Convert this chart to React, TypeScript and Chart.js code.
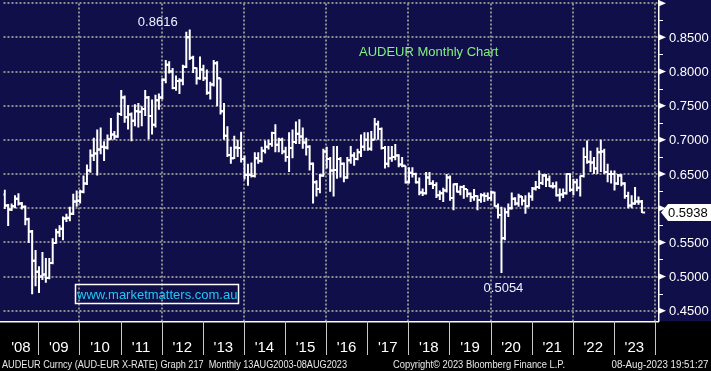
import React, { useEffect, useRef } from 'react';
import { Chart, registerables } from 'chart.js';
Chart.register(...registerables);

// ---- DATA: AUDEUR monthly OHLC, first bar = Feb 2008 (month index 1 from Jan 2008) ----
const FIRST_MONTH = 1;
const opens = [
  .620,.604,.598,.603,.614,.607,.602,.584,.566,.523,.507,
  .500,.503,.498,.520,.549,.565,.570,.585,.586,.592,.610,.611,
  .624,.636,.655,.677,.680,.686,.690,.689,.701,.708,.705,.738,
  .762,.733,.737,.728,.742,.741,.745,.762,.735,.722,.758,.762,
  .788,.810,.800,.776,.786,.787,.807,.850,.820,.805,.790,.803,
  .790,.769,.781,.812,.790,.742,.706,.678,.673,.689,.688,.672,
  .649,.649,.647,.673,.669,.684,.690,.694,.710,.693,.700,.683,
  .675,.688,.697,.709,.705,.696,.690,.665,.638,.628,.648,.683,
  .672,.655,.656,.672,.665,.645,.670,.677,.672,.682,.690,.700,
  .687,.700,.723,.716,.688,.665,.673,.675,.677,.664,.662,.638,
  .652,.650,.638,.623,.622,.645,.636,.634,.619,.622,.626,.645,
  .615,.635,.624,.631,.628,.621,.616,.618,.612,.619,.618,.615,
  .623,.603,.590,.556,.594,.600,.614,.607,.617,.611,.603,.617,
  .629,.631,.637,.648,.642,.632,.632,.619,.620,.622,.650,.627,
  .638,.630,.647,.675,.668,.667,.658,.682,.683,.653,.650,.650,
  .636,.648,.636,.618,.604,.607,.610,.610,
];
const highs = [
  .627,.606,.607,.619,.622,.609,.604,.586,.568,.539,.515,
  .536,.527,.527,.556,.570,.575,.588,.592,.602,.621,.626,.627,
  .648,.664,.686,.703,.715,.718,.698,.708,.732,.713,.740,.773,
  .765,.751,.740,.752,.754,.749,.773,.764,.759,.766,.768,.790,
  .817,.815,.805,.794,.790,.810,.858,.8616,.823,.806,.822,.810,
  .803,.785,.817,.815,.790,.754,.720,.690,.706,.700,.712,.677,
  .665,.667,.682,.682,.690,.699,.700,.712,.723,.703,.703,.690,
  .711,.715,.727,.730,.718,.703,.692,.667,.641,.650,.687,.690,
  .675,.691,.691,.675,.667,.675,.691,.682,.687,.708,.711,.711,
  .713,.732,.728,.718,.691,.691,.691,.694,.679,.675,.662,.660,
  .660,.652,.645,.629,.653,.653,.641,.638,.626,.630,.650,.648,
  .636,.637,.633,.634,.628,.623,.628,.619,.622,.623,.623,.626,
  .624,.607,.602,.600,.607,.623,.616,.621,.618,.619,.623,.631,
  .640,.655,.650,.650,.648,.638,.639,.629,.629,.651,.651,.643,
  .643,.648,.689,.699,.684,.675,.689,.700,.687,.665,.655,.655,
  .650,.650,.638,.624,.619,.631,.617,.612,
];
const lows = [
  .599,.574,.596,.600,.604,.598,.575,.549,.474,.486,.476,
  .495,.491,.496,.518,.548,.558,.553,.580,.581,.590,.602,.607,
  .622,.634,.652,.669,.648,.679,.669,.686,.700,.700,.703,.735,
  .725,.715,.698,.720,.718,.720,.735,.701,.708,.718,.744,.759,
  .783,.797,.774,.772,.767,.780,.805,.817,.798,.781,.788,.786,
  .766,.759,.778,.749,.737,.700,.675,.665,.672,.675,.667,.642,
  .633,.645,.645,.665,.667,.680,.686,.690,.682,.682,.679,.668,
  .653,.673,.694,.694,.687,.677,.655,.607,.617,.622,.646,.658,
  .624,.617,.643,.645,.638,.643,.665,.662,.670,.675,.684,.684,
  .684,.700,.700,.686,.658,.660,.668,.670,.660,.660,.636,.636,
  .645,.636,.619,.618,.620,.634,.628,.615,.612,.609,.623,.611,
  .597,.623,.619,.614,.616,.609,.611,.597,.608,.609,.611,.611,
  .602,.585,.5054,.553,.587,.598,.604,.602,.604,.592,.602,.611,
  .626,.628,.634,.631,.631,.629,.617,.610,.615,.620,.624,.619,
  .625,.617,.645,.665,.653,.650,.650,.653,.650,.638,.636,.626,
  .634,.632,.614,.600,.600,.605,.605,.593,
];
const closes = [
  .604,.598,.603,.614,.607,.602,.584,.566,.523,.507,.500,
  .503,.498,.520,.549,.565,.570,.585,.586,.592,.610,.611,.624,
  .636,.655,.677,.680,.686,.690,.689,.701,.708,.705,.738,.762,
  .733,.737,.728,.742,.741,.745,.762,.735,.722,.758,.762,.788,
  .810,.800,.776,.786,.787,.807,.850,.820,.805,.790,.803,.790,
  .769,.781,.812,.790,.742,.706,.678,.673,.689,.688,.672,.649,
  .649,.647,.673,.669,.684,.690,.694,.710,.693,.700,.683,.675,
  .688,.697,.709,.705,.696,.690,.665,.638,.628,.648,.683,.672,
  .655,.656,.672,.665,.645,.670,.677,.672,.682,.690,.700,.687,
  .700,.723,.716,.688,.665,.673,.675,.677,.664,.662,.638,.652,
  .650,.638,.623,.622,.645,.636,.634,.619,.622,.626,.645,.615,
  .635,.624,.631,.628,.621,.616,.618,.612,.619,.618,.615,.623,
  .603,.590,.556,.594,.600,.614,.607,.617,.611,.603,.617,.629,
  .631,.637,.648,.642,.632,.632,.619,.620,.622,.650,.627,.638,
  .630,.647,.675,.668,.667,.658,.682,.683,.653,.650,.650,.636,
  .648,.636,.618,.604,.607,.610,.610,.5938,
];
const yearLabels = ["'08","'09","'10","'11","'12","'13","'14","'15","'16","'17","'18","'19","'20","'21","'22","'23"];
const labelYears = [2008,2009,2010,2011,2012,2013,2014,2015,2016,2017,2018,2019,2020,2021,2022,2023];
const gridYears = [2010,2012,2014,2016,2018,2020,2022,2024];
const majorTicks = [0.45,0.50,0.55,0.60,0.65,0.70,0.75,0.80,0.85,0.90];
const minorTicks = [0.475,0.525,0.575,0.625,0.675,0.725,0.775,0.825,0.875];
const LAST_PRICE = 0.5938;
const HIGH_NOTE_MONTH = 55;  // Aug 2012 (months from Jan 2008)
const LOW_NOTE_MONTH = 146;  // Mar 2020
const TITLE = 'AUDEUR Monthly Chart';
const URL_TEXT = 'www.marketmatters.com.au';
const FOOTER_LEFT = 'AUDEUR Curncy (AUD-EUR X-RATE) Graph 217  Monthly 13AUG2003-08AUG2023';
const FOOTER_MID = 'Copyright\u00A9 2023 Bloomberg Finance L.P.';
const FOOTER_RIGHT = '08-Aug-2023 19:51:27';

// ---- layout / style ----
const W = 711, H = 371;
const PLOT_R = 658, PLOT_B = 321;
const PX_PER_MONTH = 3.444;
const X_MIN = 1.837;
const X_MAX = X_MIN + PLOT_R / PX_PER_MONTH;
const Y_MIN = 0.435, Y_MAX = 0.8995;
const BAR_SHIFT = 1.2;   // monthly bar plotted at month end
const TICK_SHIFT = 0.5;
const NAVY = '#100f4a';
const GRID = '#8c8c8c';
const FONT = '"Liberation Sans", Arial, sans-serif';

function fitText(ctx: CanvasRenderingContext2D, text: string, x: number, y: number, size: number, targetW: number, align: CanvasTextAlign) {
  ctx.font = `${size}px ${FONT}`;
  const w = ctx.measureText(text).width;
  ctx.save();
  ctx.translate(x, y);
  ctx.scale(targetW / w, 1);
  ctx.textAlign = align;
  ctx.fillText(text, 0, 0);
  ctx.restore();
}

const bbgPlugin = {
  id: 'bbg',
  beforeDraw(chart: any) {
    const { ctx, chartArea: ca, scales } = chart;
    const x = scales.x, y = scales.y;
    ctx.save();
    ctx.fillStyle = NAVY;
    ctx.fillRect(0, 0, W, ca.bottom);
    ctx.fillStyle = '#000';
    ctx.fillRect(0, ca.bottom, W, H - ca.bottom);
    ctx.strokeStyle = GRID;
    ctx.lineWidth = 2;
    ctx.setLineDash([2, 2]);
    for (const v of majorTicks) {
      const py = Math.round(y.getPixelForValue(v));
      ctx.beginPath(); ctx.moveTo(ca.left, py); ctx.lineTo(ca.right, py); ctx.stroke();
    }
    for (const yr of gridYears) {
      const px = Math.round(x.getPixelForValue((yr - 2008) * 12));
      ctx.beginPath(); ctx.moveTo(px, ca.top); ctx.lineTo(px, ca.bottom); ctx.stroke();
    }
    ctx.restore();
  },
  afterDraw(chart: any) {
    const { ctx, chartArea: ca, scales } = chart;
    const x = scales.x, y = scales.y;
    ctx.save();
    // axis lines
    ctx.fillStyle = '#ffffff';
    ctx.fillRect(0, ca.bottom, ca.right + 1, 1.5);
    ctx.fillRect(ca.right, 0, 1.5, ca.bottom + 1);
    // year separators + labels
    ctx.fillStyle = '#c8c8c8';
    for (let yr = 2009; yr <= 2024; yr++) {
      const px = Math.round(x.getPixelForValue((yr - 2008) * 12));
      ctx.fillRect(px, ca.bottom, 1, 34);
    }
    ctx.fillStyle = '#ffffff';
    ctx.font = `15px ${FONT}`;
    ctx.textAlign = 'center';
    ctx.textBaseline = 'alphabetic';
    labelYears.forEach((yr, i) => {
      const a = Math.max(ca.left, x.getPixelForValue((yr - 2008) * 12));
      const b = Math.min(ca.right, x.getPixelForValue((yr - 2007) * 12));
      ctx.fillText(yearLabels[i], (a + b) / 2, 352);
    });
    // right axis: minor ticks, markers, labels
    for (const v of minorTicks) {
      const py = Math.round(y.getPixelForValue(v));
      ctx.fillRect(ca.right + 1, py, 4, 1);
    }
    const lastPy = y.getPixelForValue(LAST_PRICE);
    ctx.font = `13px ${FONT}`;
    ctx.textAlign = 'left';
    for (const v of majorTicks) {
      const py = y.getPixelForValue(v);
      ctx.beginPath();
      ctx.moveTo(ca.right + 1, py - 3);
      ctx.lineTo(ca.right + 1, py + 3);
      ctx.lineTo(ca.right + 8, py);
      ctx.closePath();
      ctx.fill();
      if (Math.abs(py - lastPy) > 12 && py > 8) {
        ctx.fillText(v.toFixed(4), ca.right + 11, py + 4.5);
      }
    }
    // last price tag
    ctx.beginPath();
    ctx.moveTo(ca.right + 3, lastPy);
    ctx.lineTo(ca.right + 10, lastPy - 8.5);
    ctx.lineTo(W, lastPy - 8.5);
    ctx.lineTo(W, lastPy + 8.5);
    ctx.lineTo(ca.right + 10, lastPy + 8.5);
    ctx.closePath();
    ctx.fill();
    ctx.fillStyle = '#000';
    ctx.fillText(LAST_PRICE.toFixed(4), ca.right + 10, lastPy + 4.5);
    // annotations: high / low
    const hi = HIGH_NOTE_MONTH - FIRST_MONTH;
    const lo = LOW_NOTE_MONTH - FIRST_MONTH;
    ctx.fillStyle = '#eef3ff';
    ctx.textAlign = 'center';
    const hx = x.getPixelForValue(HIGH_NOTE_MONTH + BAR_SHIFT);
    const hy = y.getPixelForValue(highs[hi]);
    ctx.fillText(highs[hi].toFixed(4), hx - 32, hy - 3);
    const lx = x.getPixelForValue(LOW_NOTE_MONTH + BAR_SHIFT);
    const ly = y.getPixelForValue(lows[lo]);
    ctx.fillText(lows[lo].toFixed(4), lx + 2, ly + 19);
    // title
    ctx.fillStyle = '#82f082';
    ctx.textAlign = 'left';
    ctx.fillText(TITLE, 359, 56);
    // url box
    ctx.strokeStyle = '#ffffff';
    ctx.lineWidth = 1.5;
    ctx.strokeRect(75.5, 284.5, 163, 19);
    ctx.fillStyle = '#1ec8f5';
    ctx.fillText(URL_TEXT, 77, 299);
    // footer
    ctx.fillStyle = '#e8e8e8';
    fitText(ctx, FOOTER_LEFT, 2, 367.5, 10, 345, 'left');
    fitText(ctx, FOOTER_MID, 393, 367.5, 10, 172, 'left');
    fitText(ctx, FOOTER_RIGHT, 708.5, 367.5, 10, 97, 'right');
    ctx.restore();
  },
};

export default function App() {
  const ref = useRef<HTMLCanvasElement>(null);
  useEffect(() => {
    document.body.style.margin = '0';
    const canvas = ref.current!;
    const months = opens.map((_, i) => FIRST_MONTH + i);
    const bars = months.map((m, i) => ({ x: m + BAR_SHIFT, y: [lows[i], highs[i]] }));
    const openPts = months.map((m, i) => ({ x: m + BAR_SHIFT - TICK_SHIFT, y: opens[i] }));
    const closePts = months.map((m, i) => ({ x: m + BAR_SHIFT + TICK_SHIFT, y: closes[i] }));
    const tickDs = (data: any[]) => ({
      type: 'line' as const,
      data,
      showLine: false,
      pointStyle: 'line',
      pointRadius: 1.5,
      pointHoverRadius: 1.5,
      pointBorderWidth: 2,
      pointBorderColor: '#ffffff',
      pointBackgroundColor: '#ffffff',
    });
    const chart = new Chart(canvas, {
      type: 'bar',
      data: {
        datasets: [
          { type: 'bar', data: bars as any, backgroundColor: '#ffffff', borderWidth: 0, barThickness: 2, grouped: false, inflateAmount: 0 } as any,
          tickDs(openPts) as any,
          tickDs(closePts) as any,
        ],
      },
      options: {
        animation: false,
        responsive: false,
        events: [],
        layout: { padding: { left: 0, top: 0, right: W - PLOT_R, bottom: H - PLOT_B } },
        plugins: { legend: { display: false }, tooltip: { enabled: false } },
        scales: {
          x: { type: 'linear', min: X_MIN, max: X_MAX, display: false, offset: false },
          y: { type: 'linear', min: Y_MIN, max: Y_MAX, display: false },
        },
      },
      plugins: [bbgPlugin],
    });
    return () => chart.destroy();
  }, []);
  return (
    <div style={{ width: W, height: H }}>
      <canvas ref={ref} width={W} height={H} style={{ display: 'block' }} />
    </div>
  );
}
